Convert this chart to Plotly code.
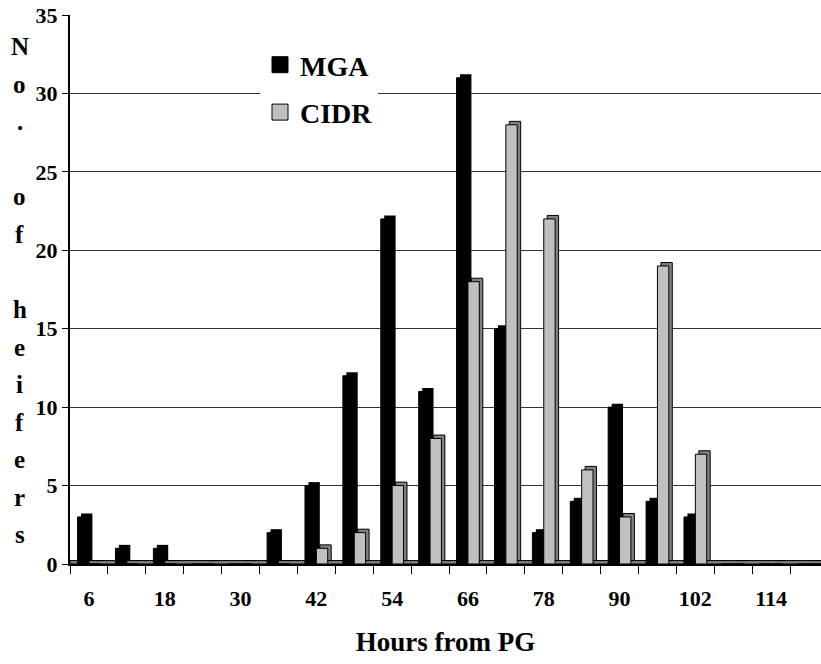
import plotly.graph_objects as go

# ---- data ----
hours = [6, 12, 18, 24, 30, 36, 42, 48, 54, 60, 66, 72, 78, 84, 90, 96, 102, 108, 114, 120]
mga = [3, 1, 1, 0, 0, 2, 5, 12, 22, 11, 31, 15, 2, 4, 10, 4, 3, 0, 0, 0]
cidr = [0, 0, 0, 0, 0, 0, 1, 2, 5, 8, 18, 28, 22, 6, 3, 19, 7, 0, 0, 0]
x_tick_labels = [6, 18, 30, 42, 54, 66, 78, 90, 102, 114]
y_ticks = [0, 5, 10, 15, 20, 25, 30, 35]
series_names = ["MGA", "CIDR"]
y_title = "No. of heifers"
x_title = "Hours from PG"

FONT = "Liberation Serif"
BW = 1.8      # bar width in hours
DX = 0.55     # 3D depth (hours)
DY = 0.22     # 3D depth (y units)

fig = go.Figure()

# MGA: depth block then front face
fig.add_trace(go.Bar(x=hours, y=mga, base=DY, offset=-BW + DX, width=BW,
                     marker=dict(color="#000000", line=dict(color="#000000", width=0)),
                     showlegend=False, hoverinfo="skip"))
fig.add_trace(go.Bar(x=hours, y=mga, offset=-BW, width=BW, name=series_names[0],
                     marker=dict(color="#000000", line=dict(color="#000000", width=1)),
                     showlegend=False))
# CIDR: depth block then front face
fig.add_trace(go.Bar(x=hours, y=cidr, base=DY, offset=DX, width=BW,
                     marker=dict(color="#808080", line=dict(color="#000000", width=1)),
                     showlegend=False, hoverinfo="skip"))
fig.add_trace(go.Bar(x=hours, y=cidr, offset=0, width=BW, name=series_names[1],
                     marker=dict(color="#C0C0C0", line=dict(color="#000000", width=1)),
                     showlegend=False))


def serif(s):
    return '<span style="font-family:\'Liberation Serif\';font-weight:bold">' + s + '</span>'


# legend entries
fig.add_trace(go.Scatter(x=[None], y=[None], mode="markers",
                         name=serif(series_names[0]),
                         legendgroup="a",
                         marker=dict(symbol="square", size=17, color="#000000",
                                     line=dict(color="#000000", width=1))))
fig.add_trace(go.Scatter(x=[None], y=[None], mode="markers",
                         name=serif(series_names[1]),
                         legendgroup="b",
                         marker=dict(symbol="square", size=17, color="#C0C0C0",
                                     line=dict(color="#000000", width=1))))

# floor strip
fig.add_shape(type="rect", xref="x", yref="y", x0=3, x1=130, y0=0, y1=DY,
              fillcolor="#808080", line=dict(color="#000000", width=1), layer="below")

# vertical y-axis title, one letter per row
annotations = []
row_h = 37.55
FS_Y = 25
for i, ch in enumerate(y_title):
    if ch == " ":
        continue
    baseline = 55 + i * row_h
    center = baseline - 0.33 * FS_Y
    annotations.append(dict(text=ch, xref="paper", yref="paper",
                            x=(20 - 70) / 751, y=(564 - center) / 549,
                            xanchor="center", yanchor="middle", showarrow=False,
                            font=dict(family=FONT, size=FS_Y, color="#000", weight="bold")))

fig.update_layout(
    width=821, height=664,
    margin=dict(l=70, r=0, t=15, b=100),
    paper_bgcolor="white", plot_bgcolor="white",
    font=dict(family=FONT, color="#000"),
    barmode="overlay",
    showlegend=True,
    legend=dict(x=(260 - 70) / 751, y=(564 - 40) / 549, xanchor="left", yanchor="top",
                bgcolor="white", borderwidth=0, tracegroupgap=8,
                font=dict(family=FONT, size=28, color="#000", weight="bold")),
    annotations=annotations,
    xaxis=dict(range=[3, 3 + 751 / 37.9 * 6], tickvals=x_tick_labels,
               ticktext=[str(v) for v in x_tick_labels],
               ticks="outside", ticklen=14, tickcolor="rgba(0,0,0,0)",
               minor=dict(tick0=3, dtick=6, ticks="outside", ticklen=8,
                          tickcolor="#000", tickwidth=1, showgrid=False),
               showgrid=False, zeroline=False, showline=True, linecolor="#000", linewidth=1.5,
               tickfont=dict(family=FONT, size=22, color="#000", weight="bold"),
               title=dict(text=x_title, standoff=22,
                          font=dict(family=FONT, size=27, color="#000", weight="bold"))),
    yaxis=dict(range=[0, 35], tickvals=y_ticks, ticks="outside", ticklen=6,
               tickcolor="#000", showgrid=True, gridcolor="#333", gridwidth=1.2,
               zeroline=False, showline=True, linecolor="#000", linewidth=2,
               tickfont=dict(family=FONT, size=22, color="#000", weight="bold")),
)

fig.write_html("out.html")
